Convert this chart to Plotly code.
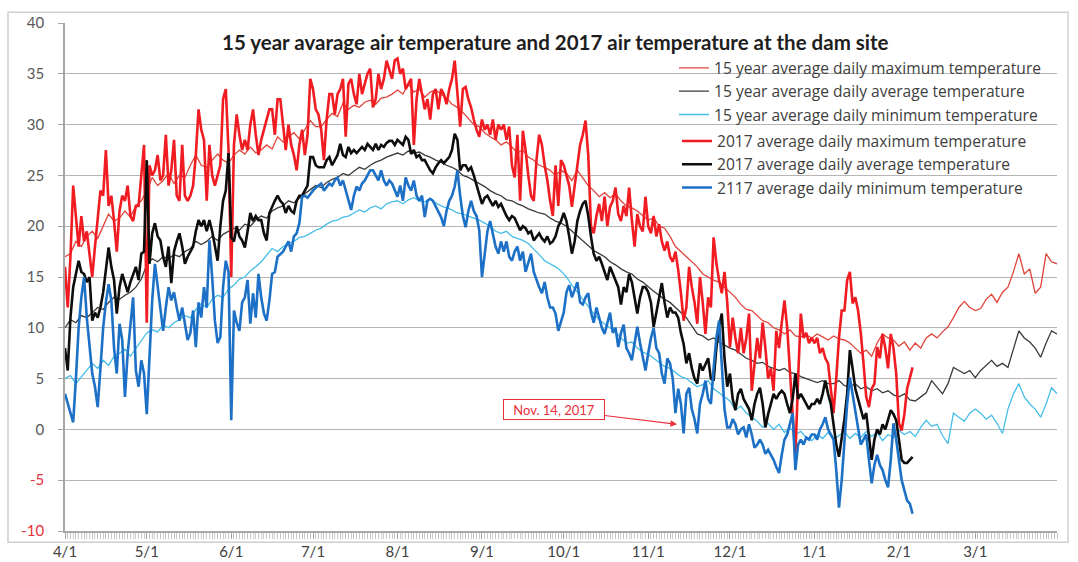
import pandas as pd
import plotly.graph_objects as go

START = "2017-04-01"
END = "2018-03-31"

# ---------------- 15 year averages (one value every 2 days, 4/1 .. 3/31) ----------------
max_15yr = [
    17.0, 17.3, 18.5, 18.0, 19.0, 19.5, 18.8, 20.0, 21.2, 20.5,
    20.8, 21.5, 20.9, 22.0, 22.5, 23.5, 24.8, 24.0, 24.5, 25.2,
    24.2, 25.0, 24.8, 26.0, 27.0, 26.0, 25.8, 26.5, 27.1, 26.5,
    26.2, 27.0, 27.5, 27.1, 27.8, 27.2, 27.5, 28.0, 27.6, 28.8,
    28.3, 28.8, 29.2, 28.6, 29.5, 30.4, 29.8, 29.8, 30.5, 31.1,
    30.8, 32.1, 31.5, 31.9, 31.7, 32.2, 32.4, 32.0, 32.6, 32.7,
    33.0, 33.4, 33.0, 34.0, 33.2, 33.5, 32.7, 33.2, 33.4, 33.0,
    32.6, 32.0, 31.7, 31.2, 30.6, 30.0, 29.8, 29.2, 28.8, 28.5,
    28.0, 28.3, 27.8, 27.2, 27.5, 26.8, 26.5, 26.0, 25.8, 25.5,
    25.0, 25.5, 25.2, 24.5, 25.5, 24.8, 24.0, 23.5, 22.9, 23.3,
    22.8, 23.2, 22.5, 22.0, 21.8, 21.5, 21.0, 20.6, 20.8, 20.0,
    19.8, 19.0, 18.0, 17.5, 17.0, 16.6, 16.0, 15.3, 15.0, 14.7,
    14.5, 14.0, 13.5, 13.0, 12.3, 11.8, 11.7, 11.2, 10.7, 10.5,
    10.0, 9.8, 9.4, 9.8, 9.2, 9.1, 9.3, 9.0, 9.4, 9.1,
    8.8, 9.2, 8.9, 8.8, 8.5, 8.0, 7.5, 7.8, 7.2, 8.5,
    9.4, 9.0, 8.8, 8.2, 8.6, 7.8, 8.5, 8.0, 9.0, 9.4,
    9.0, 9.6, 10.1, 11.0, 12.0, 12.6, 12.0, 11.7, 11.9, 12.8,
    13.3, 12.5, 13.5, 14.0, 15.5, 17.3, 15.3, 15.8, 13.4, 14.0,
    17.3, 16.5, 16.3,
]
avg_15yr = [
    10.0, 10.8, 10.5, 11.2, 11.0, 11.5, 12.0, 11.8, 12.5, 13.0,
    12.8, 13.2, 13.5, 14.0, 14.8, 16.2, 16.8, 16.5, 17.0, 16.8,
    17.2, 17.0, 17.5, 17.8, 18.5, 18.2, 18.5, 19.0, 18.6, 19.2,
    19.5, 19.8, 19.6, 20.2, 20.0, 20.6, 21.0, 20.8, 21.5, 21.8,
    22.0, 22.5, 22.3, 22.8, 23.2, 23.6, 24.0, 23.8, 24.3, 24.6,
    24.8, 25.2, 25.0, 25.4, 25.8, 25.6, 26.0, 26.3, 26.5, 26.8,
    27.0, 27.2, 27.0, 27.4, 27.2, 27.3, 27.0, 26.8, 26.5, 26.3,
    26.0, 25.8, 25.5, 25.0, 24.8, 24.5, 24.2, 23.9, 23.5, 23.2,
    23.0, 22.6, 22.5, 22.2, 22.0, 21.7, 21.5, 21.3, 21.2, 20.8,
    20.5, 20.3, 20.0, 19.5, 19.0, 18.6, 18.0, 17.6, 17.3, 17.0,
    16.5, 16.2, 15.8, 15.5, 15.3, 14.8, 14.5, 14.0, 13.6, 13.2,
    12.8, 12.5, 12.0, 11.5, 11.0, 10.2, 9.4, 9.2, 8.8, 9.0,
    8.6, 8.3, 8.0, 7.8, 7.4, 7.0, 6.8, 6.5, 6.6, 6.2,
    6.0, 5.8, 6.0, 5.6, 5.5, 5.2, 5.0, 4.8, 4.6, 4.8,
    4.5, 4.5, 4.8, 4.3, 4.2, 4.5, 4.0, 4.2, 3.8, 4.0,
    3.6, 3.8, 3.4, 3.2, 3.5, 2.9, 2.8, 3.2, 3.6, 4.8,
    4.2, 3.5, 4.5, 6.1, 5.8, 5.5, 5.8, 5.1, 5.8, 6.3,
    6.8, 6.2, 6.5, 6.1, 8.0, 9.7, 9.0, 8.6, 8.0, 7.1,
    8.5, 9.7, 9.4,
]
min_15yr = [
    5.0, 5.3, 4.5, 5.2, 5.8, 6.5, 6.0, 6.8, 6.3, 7.2,
    7.5, 7.9, 7.2, 8.0, 8.8, 9.5, 9.8, 9.6, 10.3, 10.0,
    10.5, 10.8, 11.2, 11.0, 11.8, 12.4, 12.0, 12.8, 13.2, 13.0,
    13.8, 14.2, 14.8, 15.0, 15.6, 16.0, 16.5, 17.2, 17.8, 17.5,
    18.0, 18.3, 18.5, 18.9, 19.0, 19.3, 19.6, 19.8, 20.2, 20.5,
    20.6, 20.9, 21.0, 21.3, 21.6, 21.4, 21.8, 22.0, 21.7, 22.2,
    22.4, 22.5, 22.2, 22.6, 22.8, 22.5, 22.4, 22.7, 22.3, 22.0,
    21.8, 21.6, 21.3, 21.2, 21.0, 20.8, 20.6, 20.3, 20.0, 19.5,
    19.3, 19.5, 19.0, 18.8, 18.6, 18.3, 17.8, 17.2, 16.6, 16.3,
    16.0, 15.6, 15.0, 14.2, 13.5, 12.7, 12.0, 11.4, 10.8, 10.4,
    10.0, 9.6, 9.0, 8.5, 8.6, 8.0, 7.6, 7.4, 7.0, 6.6,
    6.2, 6.0, 5.6, 5.2, 5.0, 4.6, 4.2, 4.4, 4.8, 4.0,
    3.6, 3.2, 2.8, 1.9, 2.3, 1.6, 1.2, 0.8, 0.2, 0.6,
    0.0, 0.5, -0.3, 0.2, -0.5, -0.2, -0.8, -1.1, -0.5, -0.9,
    -0.3, -1.0, -0.6, -0.2, -0.9, -0.4, -0.8, -0.2, -0.7, -0.3,
    -1.1, -0.5, -0.8, -0.1, -0.5, -0.2, -0.7, 0.2, 0.9, 0.3,
    0.5, -0.6, -1.4, 1.6, 1.2, 0.8, 1.6, 2.0, 1.6, 1.0,
    1.4, 0.6, -0.4, 2.0, 3.5, 4.5, 3.2, 2.5, 2.0, 1.2,
    2.5, 4.1, 3.5,
]

# ---------------- 2017 daily values (4/1/2017 .. 2/6/2018) ----------------
max_2017 = [
    # Apr
    16, 12, 17, 24, 21, 18, 21, 18.5, 19.5, 17.5, 15, 18, 20.5, 23.5, 23, 27.5, 22, 23, 20.5, 17.5,
    21.5, 23, 22.5, 24, 21, 20.5, 22, 22, 25, 28,
    # May
    10.5, 26, 25, 25.5, 27, 24.5, 25, 29, 24, 25.5, 28.5, 23, 22.5, 28, 23, 22.5, 23, 24, 27, 31.5,
    29.5, 28.5, 22.5, 28, 25, 24, 25, 26, 32.5, 33.5, 27.5,
    # Jun
    15, 28, 31, 29, 27.5, 28.5, 27.5, 30, 31.5, 29, 27, 28.5, 29.5, 30.5, 31.5, 31.5, 29, 32.5, 32.5, 30,
    27.5, 30, 28, 27, 25.5, 28, 29.5, 27, 29, 34.5,
    # Jul
    33.5, 31.5, 31, 29.5, 26.5, 30.5, 33, 33, 31, 33, 33.5, 34.5, 28.8, 34, 34.5, 33, 32, 35, 33, 34,
    35, 35.5, 31.7, 32.5, 35, 33.5, 34.5, 36.3, 35.5, 34.5, 36.3,
    # Aug
    36.5, 35, 35.5, 33.5, 34, 34.5, 28, 32.5, 34.5, 33, 31.5, 32.5, 30.5, 33, 33.5, 31.5, 33.5, 33, 32, 33.5,
    34.5, 36.3, 33, 29.8, 33.5, 33.7, 32.5, 31.7, 30.5, 29.5, 28.8,
    # Sep
    30.5, 29.5, 30, 29, 30.5, 28.5, 30, 29.5, 30, 28.5, 29.8, 26, 24.8, 29, 22.5, 29.4, 27.5, 25, 23, 22.5,
    26.5, 29, 28, 26, 24.5, 22.5, 21, 26, 22, 26.5,
    # Oct
    26, 25, 24, 21.9, 24, 26, 28, 29, 30.4, 27, 20, 19.3, 21, 22.2, 20.5, 22.9, 20, 21.9, 22.5, 23.8,
    21.2, 20.5, 22, 21, 23.8, 20.6, 18, 21.2, 20, 19.5, 22.9,
    # Nov
    20, 19.3, 21, 19, 20.2, 18.5, 17.6, 18.5, 17, 16.5, 17.5, 15.7, 13.4, 10.7, 12, 16, 14, 12.5, 10.4, 15,
    12.5, 9.4, 13, 12, 18.9, 16.4, 14.7, 13.4, 15.5, 12.5,
    # Dec
    8.1, 11, 9, 7.5, 10, 7.5, 9, 11.4, 3.8, 6.5, 9, 7, 10.5, 8, 5, 6, 3.8, 9.7, 8, 10.5,
    12.7, 10, 6, 2, -2.7, 5, 11.4, 9, 9.5, 8.5, 9,
    # Jan
    8.5, 9, 7.5, 8, 7, 6.5, 4, 1.6, 5, 9, 11.7, 11.7, 14.7, 15.5, 12.4, 13, 11.7, 9.5, 6.5, 3.2,
    2.2, 4, 4.5, 8.1, 7, 9.4, 8, 6, 9.4, 8, 5.5,
    # Feb
    0.6, -0.1, 1.5, 4, 5, 6.1,
]
avg_2017 = [
    # Apr
    8, 5.8, 11, 14, 15.3, 16.6, 15.5, 15.3, 14.5, 15, 10.7, 11.5, 11, 12, 13.5, 15.7, 17.9, 16, 14.7, 11.4,
    14, 15.3, 14.5, 13.5, 14.5, 15.3, 16, 14.7, 17.3, 17.5,
    # May
    26.5, 16.3, 19.3, 20.3, 19, 18.6, 17, 16, 18, 14.4, 17.5, 18.5, 19.3, 18, 16.3, 17, 17.5, 18, 19.5, 20.6,
    20, 20.6, 19.5, 20.6, 19.5, 18, 16.6, 20, 22.5, 23.5, 27.2,
    # Jun
    18.9, 18.5, 20, 19, 18.6, 17.9, 19.5, 21.3, 20.5, 21, 20.6, 20.6, 19.3, 18.6, 21.3, 22, 22.5, 23, 22.5, 22.2,
    21.3, 22, 21.5, 21.3, 22.5, 23, 23, 23.5, 24, 26.8,
    # Jul
    26.8, 26, 25.8, 25.8, 25.8, 26.5, 26.8, 26, 26.5, 27, 28.1, 27, 26.8, 27.8, 27.2, 27.5, 27.2, 27.5, 27.8, 27.5,
    28.1, 27.8, 27.5, 28.1, 27.5, 28, 27.8, 28.2, 28.4, 28.4, 28,
    # Aug
    28.5, 28.2, 28, 28.8, 28.5, 27.1, 27.5, 26.8, 27, 26.5, 26.5, 26, 25.5, 25.2, 25.8, 26.2, 26.5, 26.2, 26.5, 26.8,
    27.5, 29.1, 28.5, 25.5, 26, 26, 25.5, 25.8, 25, 24, 23.2,
    # Sep
    22.2, 22.8, 23, 22.5, 22, 22.5, 21.9, 22.2, 21.5, 21, 20.6, 21, 20.8, 20.2, 19.6, 20, 19.8, 19.3, 19.5, 18.6,
    19, 19.3, 18.8, 18.5, 19, 18.3, 18.5, 19, 20, 20.5,
    # Oct
    21.3, 20.5, 19, 17.3, 18.5, 20.5, 21.5, 22.2, 22.5, 21, 19, 17.3, 16.6, 17, 16.3, 15.5, 14.7, 16, 15.3, 14.5,
    14, 12.3, 14, 13.5, 15.3, 14.5, 13, 11.4, 13, 14, 14,
    # Nov
    13.5, 12.5, 10.1, 11.5, 13, 14.4, 12.5, 11, 12, 11.5, 11.5, 11, 9.5, 8.4, 6.5, 7.5, 6, 5, 4.5, 6.5,
    5.8, 6.5, 7, 5, 4.8, 8, 10.1, 11.4, 7, 4.2,
    # Dec
    5.5, 3, 1.9, 3.5, 4, 3, 2.5, 2, 0.9, 2.5, 3.5, 4.1, 2.5, 0.2, 1.5, 2.5, 3.5, 3, 3.5, 3.8,
    3.5, 2.5, 1.6, 3, 5.5, 3, 3.5, 3, 2.5, 2, 2.5,
    # Jan
    2.5, 3, 2.5, 3.5, 4.8, 3.5, 2.5, 0.5, -1.5, -2.7, -1, 1, 3.5, 7.8, 6, 4, 3, 2, 1, 1.6,
    -1, -3, -1, 0, -0.5, 0.5, 0, 1, 1.9, 1.5, 0.9,
    # Feb
    -1, -3, -3.3, -3.3, -3, -2.7,
]
min_2017 = [
    # Apr
    3.5, 2.5, 1.5, 0.7, 5, 10, 13, 15, 11, 8, 5.5, 4.2, 2.2, 6, 10, 12.5, 14.3, 12.7, 8, 5.5,
    10.4, 8.8, 3.2, 7.5, 10.1, 13, 5.8, 4.2, 6.8, 5.5,
    # May
    1.5, 7.5, 12.7, 16.3, 14, 11.7, 9.7, 12, 14, 12.7, 13.5, 12, 10.7, 12, 10.5, 8.8, 9.5, 11.7, 8.1, 12.5,
    11, 14, 12, 18.6, 15, 10.7, 8.5, 9.1, 14, 16.6, 15.5,
    # Jun
    0.9, 11.7, 10.5, 9.7, 12.5, 13, 14.7, 10.4, 13.4, 11, 15.3, 13, 11.4, 10.7, 12.7, 15.3, 15.5, 17, 17.3, 17.5,
    18, 18.5, 17.5, 19, 19.3, 20.3, 22.9, 23, 22.8, 23.2,
    # Jul
    23.5, 23.8, 24, 24.2, 23.5, 23.8, 24.2, 24, 24.5, 24.8, 24, 24.5, 23.5, 22.5, 21.6, 23, 23.9, 23.5, 24.2, 24.5,
    25, 25.5, 25.5, 25, 24.5, 25.5, 24.5, 24, 24.5, 24.2, 23.5,
    # Aug
    22.9, 24, 22.5, 24.8, 24, 23.5, 24.5, 23, 22.5, 23, 20.9, 22.5, 22.7, 22.5, 22, 21.5, 20.9, 20, 21.5, 22.5,
    23, 23.9, 25.5, 23, 21, 19.9, 21.5, 22.5, 21.5, 21, 19.6,
    # Sep
    15, 17.3, 19.5, 20.5, 19.2, 18, 17.3, 18.5, 17.5, 18.5, 17, 16.6, 17.5, 18, 16.6, 17.5, 15.5, 16.5, 17.3, 15.5,
    14.7, 14, 13.4, 14.5, 13, 12, 12, 11.4, 9.7, 10.7,
    # Oct
    11.5, 13.5, 14.2, 13, 13.8, 14.5, 12.5, 12.3, 13, 13.4, 11.5, 10.5, 12, 11, 10, 9.4, 10.5, 11.5, 9.5, 10,
    8.1, 9.5, 10.3, 8, 7.5, 6.8, 8.5, 10.1, 8.5, 7, 5.8,
    # Nov
    7.5, 9, 10, 8, 7.5, 5.5, 4.5, 7, 6.5, 5, 1.6, 4, 2.5, -0.4, 3.5, 4.1, 2, 1, -0.4, 2.5,
    3.5, 4.8, 3, 2.5, 6, 9, 10.7, 6, 2, 0.2,
    # Dec
    0.2, 1, 0.5, -0.5, 0, 0.2, -0.8, 0.5, -0.5, -1.8, -1.5, -1, -1.5, -2.4, -2, -2.5, -3, -3.7, -4.3, -2.5,
    -1, -0.5, 0.5, 1.6, -4, -1.5, -1, -1.5, -0.8, -1, -0.5,
    # Jan
    -0.5, -1, 0, 0.5, 1.2, 0, -0.5, -1, -4, -7.7, -5, -1, 2.5, 5.1, 3.5, 2, 0, -1.5, -1, -0.5,
    -3, -5.3, -3.5, -2.5, -3.5, -4, -5, -5.7, -3, 0.6, -1,
    # Feb
    -3, -5, -6, -7, -7.3, -8.3,
]

month_ticks = ["2017-04-01", "2017-05-01", "2017-06-01", "2017-07-01", "2017-08-01", "2017-09-01",
               "2017-10-01", "2017-11-01", "2017-12-01", "2018-01-01", "2018-02-01", "2018-03-01"]
month_labels = ["4/1", "5/1", "6/1", "7/1", "8/1", "9/1", "10/1", "11/1", "12/1", "1/1", "2/1", "3/1"]

y_ticks = [-10, -5, 0, 5, 10, 15, 20, 25, 30, 35, 40]

names_15 = ["15 year average daily maximum temperature",
            "15 year average daily average temperature",
            "15 year average daily minimum temperature"]
names_17 = ["2017 average daily maximum temperature",
            "2017 average daily average temperature",
            "2117 average daily minimum temperature"]

note_text = "Nov. 14, 2017"
note_date = "2017-11-11 14:00"
note_value = 0.5

title_text = "15 year avarage air temperature and 2017 air temperature at the dam site"

# ---------------- figure ----------------
FONT = "Lato"
LEG_FONT = "Open Sans"
d15 = pd.date_range(START, periods=len(max_15yr), freq="2D")
d17 = pd.date_range(START, periods=len(max_2017), freq="D")

fig = go.Figure()
colors_15 = ["#e0443a", "#3a3a3a", "#45bde8"]
colors_17 = ["#f01c22", "#0d0d0d", "#1c70c6"]

for vals, name, col in zip([max_15yr, avg_15yr, min_15yr], names_15, colors_15):
    fig.add_trace(go.Scatter(x=d15, y=vals, mode="lines", name=name,
                             line=dict(color=col, width=1.3), legend="legend"))
for vals, name, col in zip([max_2017, avg_2017, min_2017], names_17, colors_17):
    fig.add_trace(go.Scatter(x=d17, y=vals, mode="lines", name=name,
                             line=dict(color=col, width=2.6), legend="legend2"))

# plot area in pixels: x 65..1057, y 22.7..530.7
def px_x(px):
    return (px - 65) / 992.0

def px_y(py):
    return (530.7 - py) / 508.0

neg_col = "#e8303a"
y_text = [f'<span style="color:{neg_col}">{v}</span>' if v < 0 else str(v) for v in y_ticks]

legend_font = dict(family=LEG_FONT, size=15.6, color="#404040")

fig.update_layout(
    width=1078, height=562,
    margin=dict(l=65, r=21, t=23, b=31, autoexpand=False),
    paper_bgcolor="white", plot_bgcolor="white",
    font=dict(family=FONT, size=15, color="#404040"),
    showlegend=True,
    legend=dict(x=px_x(674), y=px_y(51), xanchor="left", yanchor="top",
                bgcolor="rgba(0,0,0,0)", font=legend_font, tracegroupgap=0,
                itemwidth=30, traceorder="normal"),
    legend2=dict(x=px_x(677), y=px_y(124), xanchor="left", yanchor="top",
                 bgcolor="rgba(0,0,0,0)", font=legend_font, tracegroupgap=0,
                 itemwidth=30, traceorder="normal"),
    xaxis=dict(
        type="date", range=[START, END], automargin=False,
        tickmode="array", tickvals=month_ticks, ticktext=month_labels,
        showgrid=False, zeroline=False,
        showline=True, linecolor="#a6a6a6", linewidth=1.5,
        ticks="outside", ticklen=6, tickcolor="#a6a6a6", tickwidth=1,
        minor=dict(ticks="outside", ticklen=6, tickcolor="#c8c8c8", tickwidth=1,
                   dtick=86400000, tick0=START, showgrid=False),
        tickfont=dict(family=FONT, size=15, color="#404040"),
        ticklabelstandoff=0,
    ),
    yaxis=dict(
        range=[-10, 40], automargin=False,
        tickmode="array", tickvals=y_ticks, ticktext=y_text,
        showgrid=True, gridcolor="#b5b5b5", gridwidth=1.3, zeroline=False,
        showline=True, linecolor="#a6a6a6", linewidth=1.5,
        ticks="outside", ticklen=5, tickcolor="#a6a6a6",
        tickfont=dict(family=FONT, size=15, color="#595959"),
        ticklabelstandoff=11,
    ),
    shapes=[
        # outer chart frame
        dict(type="rect", xref="paper", yref="paper",
             x0=px_x(8), x1=px_x(1068), y0=px_y(542), y1=px_y(12),
             line=dict(color="#cfcfcf", width=1.5), fillcolor="rgba(0,0,0,0)", layer="above"),
        # legend background hiding grid behind first legend block
        dict(type="rect", xref="paper", yref="paper",
             x0=px_x(652), x1=px_x(1056), y0=px_y(118), y1=px_y(50),
             line=dict(width=0), fillcolor="white", layer="between"),
        dict(type="rect", xref="paper", yref="paper",
             x0=px_x(652), x1=px_x(700), y0=px_y(128), y1=px_y(118),
             line=dict(width=0), fillcolor="white", layer="between"),
    ],
    annotations=[
        dict(text=f"<b>{title_text}</b>", xref="paper", yref="paper",
             x=px_x(555), y=px_y(42), xanchor="center", yanchor="middle",
             showarrow=False, font=dict(family=FONT, size=20.5, color="#1e1e1e")),
        dict(text=note_text, x=note_date, y=note_value, xref="x", yref="y",
             showarrow=True, arrowhead=2, arrowsize=1.1, arrowwidth=1.2, arrowcolor="#e8303a",
             ax=-123, ay=-15, font=dict(family=FONT, size=13, color="#e8303a"),
             bordercolor="#e8303a", borderwidth=1, borderpad=1, bgcolor="white",
             width=98, height=17),
    ],
)

fig.write_html("out.html", config={"displayModeBar": False},
               post_script="document.body.style.margin='0px';document.body.style.overflow='hidden';")
